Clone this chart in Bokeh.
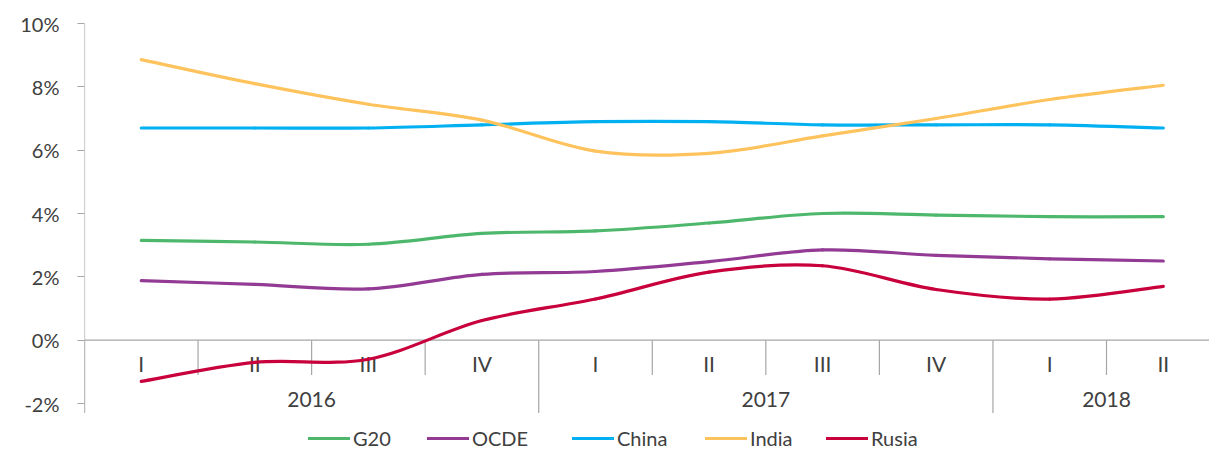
import numpy as np
from bokeh.plotting import figure
from bokeh.models import Range1d, FixedTicker, PrintfTickFormatter, Legend, ColumnDataSource
from bokeh.core.properties import value
from bokeh.embed import file_html
from bokeh.resources import INLINE

quarters = ["I", "II", "III", "IV", "I", "II", "III", "IV", "I", "II"]
years = ["2016", "2017", "2018"]
year_counts = [4, 4, 2]

g20 = [3.15, 3.10, 3.03, 3.37, 3.45, 3.70, 4.00, 3.95, 3.90, 3.90]
ocde = [1.88, 1.76, 1.62, 2.08, 2.17, 2.48, 2.85, 2.68, 2.57, 2.50]
china = [6.70, 6.70, 6.70, 6.80, 6.90, 6.90, 6.80, 6.80, 6.80, 6.70]
india = [8.86, 8.10, 7.45, 6.95, 5.97, 5.90, 6.45, 7.00, 7.60, 8.05]
rusia = [-1.30, -0.70, -0.60, 0.62, 1.30, 2.15, 2.35, 1.60, 1.30, 1.70]

series = [("G20", g20, "#4DB86C"), ("OCDE", ocde, "#923A94"), ("China", china, "#00B0F0"),
          ("India", india, "#FFC35E"), ("Rusia", rusia, "#C8003C")]
legend_x = [224, 343, 488, 621, 742]  # legend item offsets from the plot frame's left edge

FONT = "Lato"
TXT = "#404040"
GRAY = "#A6A6A6"
PX_PER_UNIT = 31.67
FRAME_H = 427

p = figure(width=1209, height=450, output_backend="svg", toolbar_location=None,
           x_range=Range1d(-0.5, 9.407), y_range=Range1d(10 - FRAME_H / PX_PER_UNIT, 10),
           min_border_left=84, min_border_right=0, min_border_top=23, min_border_bottom=0)
p.outline_line_color = None
p.grid.visible = False
p.xaxis.visible = False

ya = p.yaxis[0]
ya.ticker = FixedTicker(ticks=[-2, 0, 2, 4, 6, 8, 10])
ya.formatter = PrintfTickFormatter(format="%d%%")
ya.axis_line_color = None
ya.major_tick_line_color = GRAY
ya.major_tick_out = 7
ya.major_tick_in = 0
ya.minor_tick_line_color = None
ya.major_label_text_font = FONT
ya.major_label_text_font_size = "20px"
ya.major_label_text_color = TXT
ya.major_label_standoff = 18

n = len(quarters)
xs = np.arange(n, dtype=float)

# value axis line
p.segment(x0=[-0.5], y0=[-2.3], x1=[-0.5], y1=[10], line_color=GRAY, line_width=1.2)
# category axis at y = 0
p.segment(x0=[-0.5], y0=[0], x1=[9.407], y1=[0], line_color=GRAY, line_width=1.2)
year_bounds = [-0.5]
for c in year_counts:
    year_bounds.append(year_bounds[-1] + c)
q_bounds = [b + 0.5 for b in range(-1, n - 1) if (b + 0.5) not in year_bounds]
p.segment(x0=q_bounds, y0=[0] * len(q_bounds), x1=q_bounds, y1=[-1.1] * len(q_bounds),
          line_color=GRAY, line_width=1.2)
yb = [b for b in year_bounds if b < n - 0.5]
p.segment(x0=yb, y0=[0] * len(yb), x1=yb, y1=[-2.3] * len(yb), line_color=GRAY, line_width=1.2)

p.text(x=list(xs), y=[-0.72] * n, text=quarters, text_align="center", text_baseline="middle",
       text_font=value(FONT), text_font_size="21px", text_color=TXT)
ycent = [(year_bounds[i] + year_bounds[i + 1]) / 2 for i in range(len(years))]
p.text(x=ycent, y=[-1.87] * len(years), text=years, text_align="center", text_baseline="middle",
       text_font=value(FONT), text_font_size="21px", text_color=TXT)

for (name, vals, col), lx in zip(series, legend_x):
    y = np.array(vals, dtype=float)
    yp = np.concatenate([[y[0]], y, [y[-1]]])
    xp = np.concatenate([[xs[0]], xs, [xs[-1]]])
    x0 = xs[:-1]; x1 = xs[1:]; y0 = y[:-1]; y1 = y[1:]
    cx0 = x0 + (xp[2:-1] - xp[:-3]) / 6.0
    cy0 = y0 + (yp[2:-1] - yp[:-3]) / 6.0
    cx1 = x1 - (xp[3:] - xp[1:-2]) / 6.0
    cy1 = y1 - (yp[3:] - yp[1:-2]) / 6.0
    src = ColumnDataSource(dict(x0=x0, y0=y0, x1=x1, y1=y1, cx0=cx0, cy0=cy0, cx1=cx1, cy1=cy1))
    r = p.bezier(x0="x0", y0="y0", x1="x1", y1="y1", cx0="cx0", cy0="cy0", cx1="cx1", cy1="cy1",
                 source=src, line_color=col, line_width=3.2, line_cap="round")
    lg = Legend(items=[(name, [r])], orientation="horizontal", location=(lx, 0),
                label_text_font=FONT, label_text_font_size="20px", label_text_color=TXT,
                glyph_width=42, glyph_height=20, label_standoff=3, spacing=0,
                padding=0, margin=0, border_line_color=None, background_fill_alpha=0)
    p.add_layout(lg)

open("out.html", "w").write(file_html(p, INLINE))
